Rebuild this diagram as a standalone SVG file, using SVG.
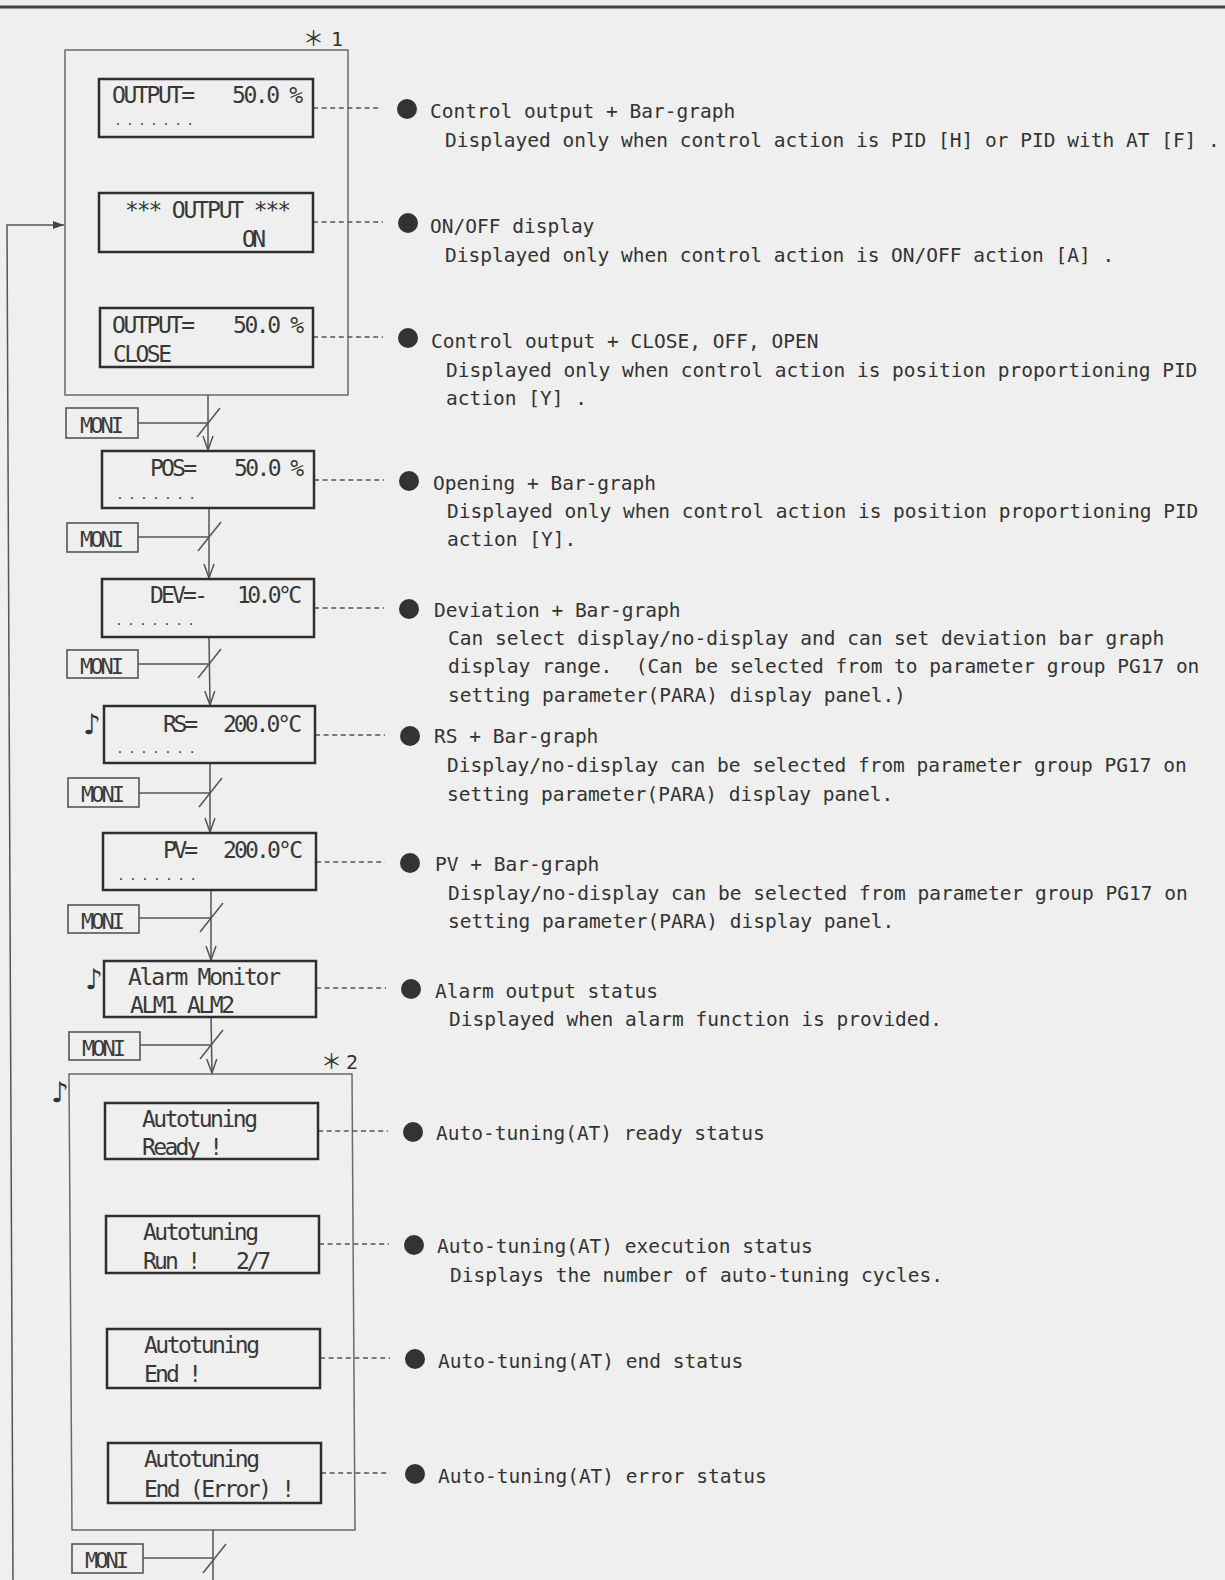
<svg xmlns="http://www.w3.org/2000/svg" width="1225" height="1580" viewBox="0 0 1225 1580">
<defs>
<style>
.lcd{fill:none;stroke:#2e2e2e;stroke-width:2.5}
.grp{fill:none;stroke:#6a6a6a;stroke-width:1.5}
.moni{fill:none;stroke:#555;stroke-width:1.6}
.lt{font-family:"DejaVu Sans Mono","Liberation Mono",monospace;font-size:23px;fill:#383838}
.bar{font-family:"DejaVu Sans Mono","Liberation Mono",monospace;font-size:13px;fill:#444}
.mt{font-family:"DejaVu Sans Mono","Liberation Mono",monospace;font-size:22px;fill:#3a3a3a;text-anchor:middle}
.dt{font-family:"DejaVu Sans Mono","Liberation Mono",monospace;font-size:19.5px;fill:#333}
.ast{font-family:"Noto Sans CJK JP","DejaVu Sans",sans-serif;font-size:21px;fill:#333}
.note{font-family:"DejaVu Sans",sans-serif;font-size:28px;fill:#333}
.wire{fill:none;stroke:#555;stroke-width:1.5}
.dash{fill:none;stroke:#555;stroke-width:1.5;stroke-dasharray:5 3.6}
.dot{fill:#333}
</style>
<marker id="arr" viewBox="-16 -7 18 14" refX="0" refY="0" markerWidth="18" markerHeight="14" markerUnits="userSpaceOnUse" orient="auto" overflow="visible">
<path d="M-14,-5 L0,0 L-14,5" fill="none" stroke="#555" stroke-width="1.5"/>
</marker>
<marker id="arrf" viewBox="-12 -5 13 10" refX="0" refY="0" markerWidth="13" markerHeight="10" markerUnits="userSpaceOnUse" orient="auto" overflow="visible">
<path d="M-11,-4 L0,0 L-11,4 Z" fill="#444"/>
</marker>
</defs>
<rect x="0" y="0" width="1225" height="1580" fill="#efefef"/>
<line x1="0" y1="7" x2="1225" y2="7" stroke="#444" stroke-width="3"/>

<!-- group frames -->
<g id="group1">
<rect class="grp" x="65" y="50" width="283" height="345"/>
<text class="ast" x="303" y="46">＊<tspan x="331" font-family="DejaVu Sans Mono, monospace" font-size="20">1</tspan></text>
</g>
<g id="group2">
<path class="grp" d="M69,1074 L352,1074 L355,1530 L72,1530 Z"/>
<text class="ast" x="321" y="1069">＊<tspan x="346" font-family="DejaVu Sans Mono, monospace" font-size="20">2</tspan></text>
<text class="note" x="51" y="1102">♪</text>
</g>

<!-- connectors -->
<g id="connectors">
<polyline class="wire" points="13,1580 7,225 64,225" marker-end="url(#arrf)"/>
<line class="wire" x1="208" y1="395" x2="208" y2="450" marker-end="url(#arr)"/>
<line class="wire" x1="209" y1="508" x2="209" y2="578" marker-end="url(#arr)"/>
<line class="wire" x1="209" y1="637" x2="210" y2="705" marker-end="url(#arr)"/>
<line class="wire" x1="210" y1="763" x2="210" y2="832" marker-end="url(#arr)"/>
<line class="wire" x1="211" y1="890" x2="211" y2="960" marker-end="url(#arr)"/>
<line class="wire" x1="211" y1="1017" x2="212" y2="1073" marker-end="url(#arr)"/>
<line class="wire" x1="213" y1="1530" x2="213" y2="1580"/>
<line class="wire" x1="138" y1="423" x2="208" y2="423"/>
<line class="wire" x1="197" y1="437" x2="220" y2="408"/>
<line class="wire" x1="138" y1="537" x2="209" y2="537"/>
<line class="wire" x1="198" y1="551" x2="221" y2="522"/>
<line class="wire" x1="138" y1="664" x2="209" y2="664"/>
<line class="wire" x1="198" y1="678" x2="221" y2="649"/>
<line class="wire" x1="139" y1="793" x2="210" y2="793"/>
<line class="wire" x1="199" y1="807" x2="222" y2="778"/>
<line class="wire" x1="139" y1="918" x2="211" y2="918"/>
<line class="wire" x1="200" y1="932" x2="223" y2="903"/>
<line class="wire" x1="140" y1="1045" x2="211" y2="1045"/>
<line class="wire" x1="200" y1="1059" x2="223" y2="1030"/>
<line class="wire" x1="143" y1="1558" x2="213" y2="1558"/>
<line class="wire" x1="203" y1="1573" x2="226" y2="1544"/>
<line class="dash" x1="313" y1="108" x2="382" y2="108"/>
<line class="dash" x1="313" y1="222" x2="383" y2="222"/>
<line class="dash" x1="313" y1="337" x2="383" y2="337"/>
<line class="dash" x1="314" y1="480" x2="384" y2="480"/>
<line class="dash" x1="314" y1="608" x2="384" y2="608"/>
<line class="dash" x1="315" y1="735" x2="385" y2="735"/>
<line class="dash" x1="316" y1="862" x2="385" y2="862"/>
<line class="dash" x1="316" y1="988" x2="386" y2="988"/>
<line class="dash" x1="318" y1="1131" x2="388" y2="1131"/>
<line class="dash" x1="319" y1="1244" x2="389" y2="1244"/>
<line class="dash" x1="320" y1="1358" x2="390" y2="1358"/>
<line class="dash" x1="321" y1="1473" x2="390" y2="1473"/>
</g>

<!-- MONI keys -->
<g id="moni1"><rect class="moni" x="66" y="408" width="72" height="30"/><text class="mt" x="102" y="433" textLength="44">MONI</text></g>
<g id="moni2"><rect class="moni" x="67" y="523" width="71" height="29"/><text class="mt" x="102" y="547" textLength="44">MONI</text></g>
<g id="moni3"><rect class="moni" x="67" y="650" width="71" height="28"/><text class="mt" x="102" y="674" textLength="44">MONI</text></g>
<g id="moni4"><rect class="moni" x="68" y="778" width="71" height="29"/><text class="mt" x="103" y="802" textLength="44">MONI</text></g>
<g id="moni5"><rect class="moni" x="68" y="905" width="71" height="28"/><text class="mt" x="103" y="929" textLength="44">MONI</text></g>
<g id="moni6"><rect class="moni" x="69" y="1032" width="71" height="28"/><text class="mt" x="104" y="1056" textLength="44">MONI</text></g>
<g id="moni7"><rect class="moni" x="72" y="1544" width="71" height="29"/><text class="mt" x="107" y="1568" textLength="44">MONI</text></g>

<!-- LCD displays -->
<g id="lcd-output-bar">
<rect class="lcd" x="99" y="79" width="214" height="58"/>
<text class="lt" x="112" y="103" textLength="83">OUTPUT=</text>
<text class="lt" x="232" y="103" textLength="71">50.0 %</text>
<text class="bar" x="114" y="125" textLength="80">.......</text>
</g>
<g id="lcd-onoff">
<rect class="lcd" x="99" y="193" width="214" height="59"/>
<text class="lt" x="125" y="218" textLength="166">*** OUTPUT ***</text>
<text class="lt" x="242" y="247" textLength="24">ON</text>
</g>
<g id="lcd-output-close">
<rect class="lcd" x="100" y="308" width="213" height="59"/>
<text class="lt" x="112" y="333" textLength="83">OUTPUT=</text>
<text class="lt" x="233" y="333" textLength="71">50.0 %</text>
<text class="lt" x="113" y="362" textLength="59">CLOSE</text>
</g>
<g id="lcd-pos">
<rect class="lcd" x="102" y="451" width="212" height="57"/>
<text class="lt" x="150" y="476" textLength="47">POS=</text>
<text class="lt" x="234" y="476" textLength="70">50.0 %</text>
<text class="bar" x="116" y="499" textLength="80">.......</text>
</g>
<g id="lcd-dev">
<rect class="lcd" x="102" y="579" width="212" height="58"/>
<text class="lt" x="150" y="603" textLength="58">DEV=-</text>
<text class="lt" x="237" y="603" textLength="65">10.0°C</text>
<text class="bar" x="115" y="625" textLength="80">.......</text>
</g>
<g id="lcd-rs">
<rect class="lcd" x="104" y="706" width="211" height="57"/>
<text class="note" x="83" y="734">♪</text>
<text class="lt" x="163" y="732" textLength="35">RS=</text>
<text class="lt" x="223" y="732" textLength="79">200.0°C</text>
<text class="bar" x="116" y="753" textLength="80">.......</text>
</g>
<g id="lcd-pv">
<rect class="lcd" x="103" y="833" width="213" height="57"/>
<text class="lt" x="163" y="858" textLength="35">PV=</text>
<text class="lt" x="223" y="858" textLength="80">200.0°C</text>
<text class="bar" x="117" y="880" textLength="80">.......</text>
</g>
<g id="lcd-alarm">
<rect class="lcd" x="104" y="961" width="212" height="56"/>
<text class="note" x="85" y="989">♪</text>
<text class="lt" x="128" y="985" textLength="153">Alarm Monitor</text>
<text class="lt" x="130" y="1013" textLength="105">ALM1 ALM2</text>
</g>
<g id="lcd-at-ready">
<rect class="lcd" x="105" y="1103" width="213" height="56"/>
<text class="lt" x="142" y="1127" textLength="116">Autotuning</text>
<text class="lt" x="142" y="1155" textLength="81">Ready !</text>
</g>
<g id="lcd-at-run">
<rect class="lcd" x="106" y="1216" width="213" height="57"/>
<text class="lt" x="143" y="1240" textLength="116">Autotuning</text>
<text class="lt" x="143" y="1269" textLength="58">Run !</text>
<text class="lt" x="236" y="1269" textLength="35">2/7</text>
</g>
<g id="lcd-at-end">
<rect class="lcd" x="107" y="1329" width="213" height="59"/>
<text class="lt" x="144" y="1353" textLength="116">Autotuning</text>
<text class="lt" x="144" y="1382" textLength="58">End !</text>
</g>
<g id="lcd-at-error">
<rect class="lcd" x="108" y="1443" width="213" height="60"/>
<text class="lt" x="144" y="1467" textLength="116">Autotuning</text>
<text class="lt" x="144" y="1497" textLength="151">End (Error) !</text>
</g>

<!-- descriptions -->
<g id="desc-output-bar">
<circle class="dot" cx="407" cy="109" r="10"/>
<text class="dt" x="430" y="118">Control output + Bar-graph</text>
<text class="dt" x="445" y="147">Displayed only when control action is PID [H] or PID with AT [F] .</text>
</g>
<g id="desc-onoff">
<circle class="dot" cx="408" cy="223" r="10"/>
<text class="dt" x="430" y="233">ON/OFF display</text>
<text class="dt" x="445" y="262">Displayed only when control action is ON/OFF action [A] .</text>
</g>
<g id="desc-output-close">
<circle class="dot" cx="408" cy="338" r="10"/>
<text class="dt" x="431" y="348">Control output + CLOSE, OFF, OPEN</text>
<text class="dt" x="446" y="377">Displayed only when control action is position proportioning PID</text>
<text class="dt" x="446" y="405">action [Y] .</text>
</g>
<g id="desc-pos">
<circle class="dot" cx="409" cy="481" r="10"/>
<text class="dt" x="433" y="490">Opening + Bar-graph</text>
<text class="dt" x="447" y="518">Displayed only when control action is position proportioning PID</text>
<text class="dt" x="447" y="546">action [Y].</text>
</g>
<g id="desc-dev">
<circle class="dot" cx="409" cy="609" r="10"/>
<text class="dt" x="434" y="617">Deviation + Bar-graph</text>
<text class="dt" x="448" y="645">Can select display/no-display and can set deviation bar graph</text>
<text class="dt" x="448" y="673">display range.&#160; (Can be selected from to parameter group PG17 on</text>
<text class="dt" x="448" y="702">setting parameter(PARA) display panel.)</text>
</g>
<g id="desc-rs">
<circle class="dot" cx="410" cy="736" r="10"/>
<text class="dt" x="434" y="743">RS + Bar-graph</text>
<text class="dt" x="447" y="772">Display/no-display can be selected from parameter group PG17 on</text>
<text class="dt" x="447" y="801">setting parameter(PARA) display panel.</text>
</g>
<g id="desc-pv">
<circle class="dot" cx="410" cy="863" r="10"/>
<text class="dt" x="435" y="871">PV + Bar-graph</text>
<text class="dt" x="448" y="900">Display/no-display can be selected from parameter group PG17 on</text>
<text class="dt" x="448" y="928">setting parameter(PARA) display panel.</text>
</g>
<g id="desc-alarm">
<circle class="dot" cx="411" cy="989" r="10"/>
<text class="dt" x="435" y="998">Alarm output status</text>
<text class="dt" x="449" y="1026">Displayed when alarm function is provided.</text>
</g>
<g id="desc-at-ready">
<circle class="dot" cx="413" cy="1132" r="10"/>
<text class="dt" x="436" y="1140">Auto-tuning(AT) ready status</text>
</g>
<g id="desc-at-run">
<circle class="dot" cx="414" cy="1245" r="10"/>
<text class="dt" x="437" y="1253">Auto-tuning(AT) execution status</text>
<text class="dt" x="450" y="1282">Displays the number of auto-tuning cycles.</text>
</g>
<g id="desc-at-end">
<circle class="dot" cx="415" cy="1359" r="10"/>
<text class="dt" x="438" y="1368">Auto-tuning(AT) end status</text>
</g>
<g id="desc-at-error">
<circle class="dot" cx="415" cy="1474" r="10"/>
<text class="dt" x="438" y="1483">Auto-tuning(AT) error status</text>
</g>
</svg>
